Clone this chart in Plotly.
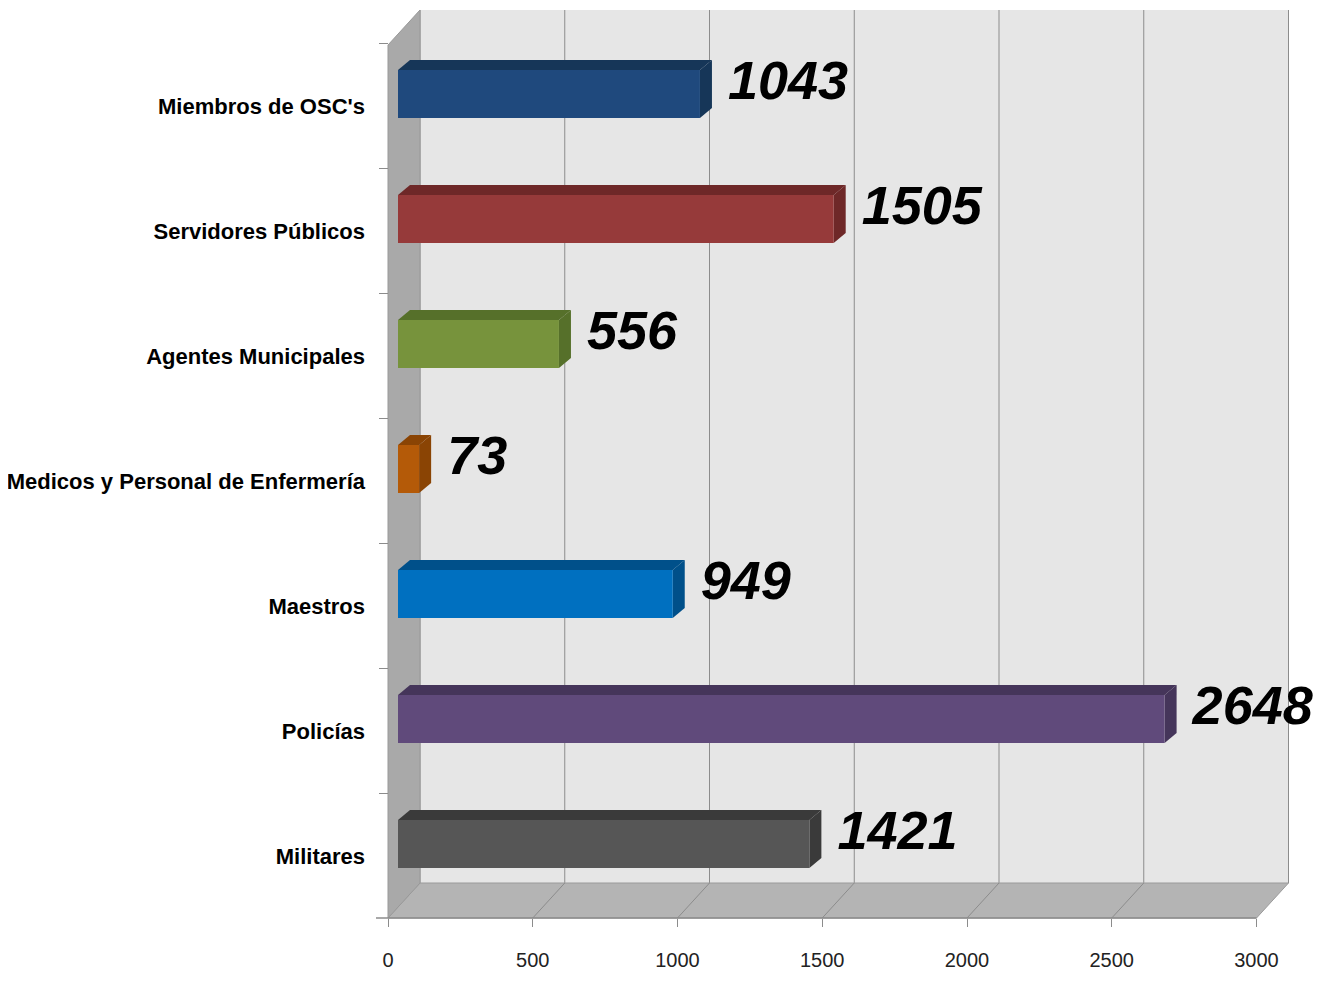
import plotly.graph_objects as go

# data, bottom to top
categories = ["Militares", "Policías", "Maestros", "Medicos y Personal de Enfermería",
              "Agentes Municipales", "Servidores Públicos", "Miembros de OSC's"]
values = [1421, 2648, 949, 73, 556, 1505, 1043]
colors = ["#565656", "#604a7b", "#0070c0", "#b45a08", "#77933c", "#963a3a", "#1f497d"]
dark_colors = ["#3a3a3a", "#45355a", "#00508a", "#8a4404", "#56702a", "#6e2828", "#163658"]
x_ticks = [0, 500, 1000, 1500, 2000, 2500, 3000]

FONT = "Liberation Sans, Arial, sans-serif"

# page has an 8px body margin; all pixel numbers below are page pixels
PAGE = 8
W, H = 1329 - 2 * PAGE, 981 - 2 * PAGE
L, R, T, B = 376, 1300, PAGE, 918
k = 0.2895            # px per unit
face0, front0, back0 = 398, 388, 420   # x pixel of value 0 on each depth plane
row_h = 125
face_y0 = 844         # pixel of first bar centre (front face)
label_y0 = 856        # pixel of first label (front plane)
wall_top, floor_back = 10, 883
bar_w = 0.384
dx_px, dy_px = 12, 10  # bar depth


def px(x):
    return (x - L) / (R - L)


def py(y):
    return (B - y) / (B - T)


def xrange_for(zero_px):
    return [(L - zero_px) / k, (R - zero_px) / k]


def yrange_for(first_px):
    return [(first_px - B) / row_h, (first_px - T) / row_h]


idx = list(range(len(categories)))
shapes = []

# back wall
shapes.append(dict(type="rect", xref="paper", yref="paper", layer="below",
                   x0=px(back0), x1=px(back0 + 3000 * k), y0=py(floor_back), y1=py(wall_top),
                   fillcolor="#e6e6e6", line=dict(width=0)))
# back wall gridlines
for t in x_ticks:
    xb = back0 + t * k
    shapes.append(dict(type="line", xref="paper", yref="paper", layer="below",
                       x0=px(xb), x1=px(xb), y0=py(floor_back), y1=py(wall_top),
                       line=dict(color="#8c8c8c", width=1)))
# floor
shapes.append(dict(type="path", xref="paper", yref="paper", layer="below",
                   path=f"M {px(back0)},{py(floor_back)} L {px(back0 + 3000 * k)},{py(floor_back)} "
                        f"L {px(front0 + 3000 * k)},{py(B)} L {px(front0)},{py(B)} Z",
                   fillcolor="#b4b4b4", line=dict(color="#9a9a9a", width=1)))
for t in x_ticks[1:-1]:
    shapes.append(dict(type="line", xref="paper", yref="paper", layer="below",
                       x0=px(back0 + t * k), x1=px(front0 + t * k), y0=py(floor_back), y1=py(B),
                       line=dict(color="#8c8c8c", width=1)))
# left wall
shapes.append(dict(type="path", xref="paper", yref="paper", layer="below",
                   path=f"M {px(front0)},{py(45)} L {px(back0)},{py(wall_top)} "
                        f"L {px(back0)},{py(floor_back)} L {px(front0)},{py(B)} Z",
                   fillcolor="#a9a9a9", line=dict(color="#999999", width=1)))
# front axis line
shapes.append(dict(type="line", xref="paper", yref="paper", layer="below",
                   x0=px(front0 - 12), x1=px(front0 + 3000 * k), y0=py(B), y1=py(B),
                   line=dict(color="#8c8c8c", width=1.5)))

# bar depth faces (top and right side)
dxu = dx_px / k
dyu = dy_px / row_h
for i, v in enumerate(values):
    top = i + bar_w / 2
    bot = i - bar_w / 2
    shapes.append(dict(type="path", xref="x", yref="y", layer="below",
                       path=f"M 0,{top} L {v},{top} L {v + dxu},{top + dyu} L {dxu},{top + dyu} Z",
                       fillcolor=dark_colors[i], line=dict(width=0)))
    shapes.append(dict(type="path", xref="x", yref="y", layer="below",
                       path=f"M {v},{bot} L {v},{top} L {v + dxu},{top + dyu} L {v + dxu},{bot + dyu} Z",
                       fillcolor=dark_colors[i], line=dict(width=0)))

fig = go.Figure()
fig.add_trace(go.Bar(
    x=values, y=idx, orientation="h", width=bar_w,
    marker=dict(color=colors, line=dict(width=0)),
    hoverinfo="x", showlegend=False,
))
fig.add_trace(go.Scatter(
    x=[v + 28 / k for v in values], y=[i + 0.07 for i in idx],
    mode="text", text=[str(v) for v in values], textposition="middle right",
    textfont=dict(family=FONT, size=54, color="black", style="italic", weight="bold"),
    cliponaxis=False, hoverinfo="skip", showlegend=False,
))

fig.update_layout(
    width=W, height=H,
    margin=dict(l=L - PAGE, r=W + PAGE - R, t=T - PAGE, b=H + PAGE - B),
    paper_bgcolor="white", plot_bgcolor="white",
    shapes=shapes,
    xaxis=dict(range=xrange_for(face0), visible=False, fixedrange=True, automargin=False),
    xaxis2=dict(range=xrange_for(front0), overlaying="x", anchor="y", side="bottom",
                tickmode="array", tickvals=x_ticks, ticks="outside", ticklen=8,
                tickcolor="#8c8c8c", showgrid=False, zeroline=False, showline=False,
                ticklabelstandoff=16, automargin=False,
                tickfont=dict(family=FONT, size=20, color="#222222")),
    yaxis=dict(range=yrange_for(face_y0), visible=False, fixedrange=True, automargin=False),
    yaxis2=dict(range=yrange_for(label_y0), overlaying="y", anchor="free", side="left",
                position=px(front0), tickmode="array", tickvals=idx, ticktext=categories,
                ticks="", showgrid=False, zeroline=False, showline=False,
                ticklabelstandoff=23, automargin=False,
                minor=dict(tickmode="array", tickvals=[i - 0.5 for i in idx] + [len(idx) - 0.5],
                           ticks="outside", ticklen=9, tickcolor="#8c8c8c", showgrid=False),
                tickfont=dict(family=FONT, size=22, color="black", weight="bold")),
)

# dummy trace so the overlaying axes get drawn
fig.add_trace(go.Scatter(x=[None], y=[None], xaxis="x2", yaxis="y2",
                         showlegend=False, hoverinfo="skip"))

fig.write_html("out.html")
